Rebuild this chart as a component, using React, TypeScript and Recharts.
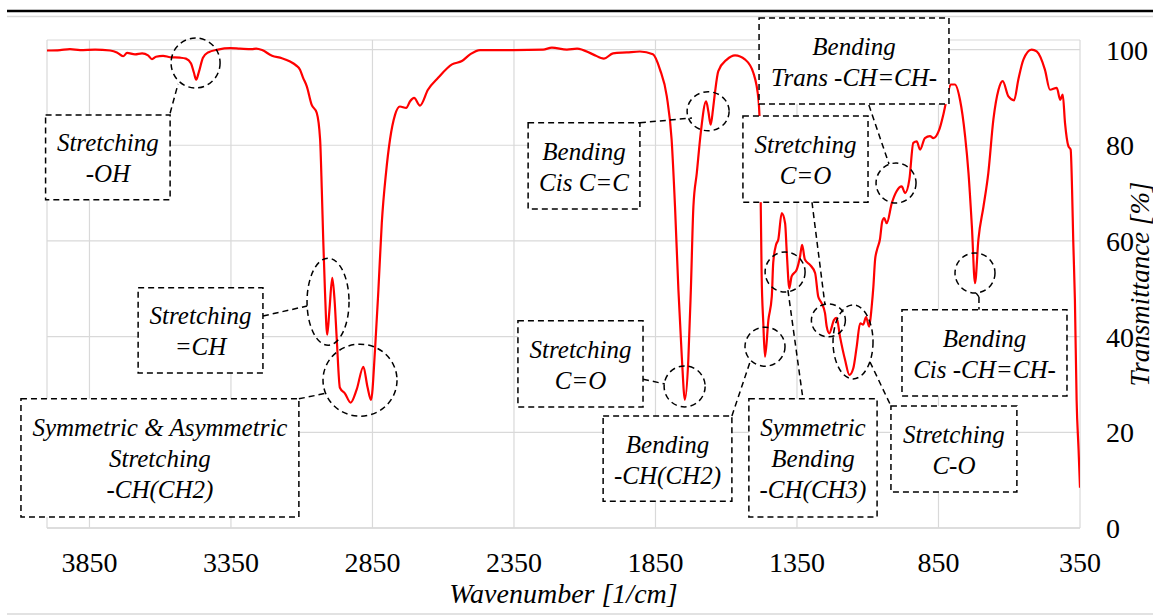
import React from 'react';
import {
  LineChart,
  Line,
  XAxis,
  YAxis,
  CartesianGrid,
  ReferenceArea,
  ReferenceDot,
  ReferenceLine,
} from 'recharts';

// ---------- data ----------
const WAVENUMBER = [
  4000, 3954, 3919, 3883, 3830, 3777, 3753, 3731, 3717, 3689, 3664, 3643, 3629, 3615, 3590, 3565, 3530, 3509,
  3491, 3481, 3473, 3463, 3449, 3431, 3396, 3353, 3318, 3276, 3261, 3240, 3205, 3170, 3141, 3120, 3106, 3095,
  3082, 3065, 3047, 3035, 3029, 3024, 3018, 3010, 3002, 2992, 2984, 2976, 2965, 2947, 2927, 2906, 2882, 2868,
  2855, 2841, 2829, 2817, 2802, 2788, 2770, 2753, 2731, 2717, 2703, 2682, 2654, 2618, 2569, 2534, 2505, 2470,
  2353, 2247, 2216, 2163, 2127, 2071, 2032, 2000, 1951, 1905, 1859, 1834, 1810, 1793, 1781, 1769, 1757, 1746,
  1734, 1725, 1716, 1704, 1690, 1671, 1663, 1655, 1647, 1640, 1628, 1598, 1569, 1533, 1504, 1486, 1480, 1478,
  1475, 1469, 1463, 1451, 1439, 1434, 1424, 1416, 1404, 1392, 1386, 1377, 1369, 1351, 1339, 1332, 1322, 1304,
  1286, 1275, 1263, 1251, 1245, 1236, 1219, 1210, 1198, 1180, 1165, 1151, 1139, 1127, 1116, 1106, 1095, 1086,
  1080, 1074, 1067, 1057, 1049, 1042, 1033, 1015, 998, 980, 968, 953, 939, 927, 915, 898, 880, 868, 847, 833,
  819, 807, 792, 774, 756, 744, 732, 721, 709, 691, 674, 656, 638, 623, 603, 583, 568, 550, 521, 503, 474, 456,
  432, 420, 411, 403, 391, 383, 378, 374, 368, 362, 355, 350,
];

const TRANSMITTANCE = [
  99.8, 99.9, 100.1, 99.9, 100, 99.8, 99.4, 98.6, 99.3, 99.0, 99.2, 98.8, 98.0, 98.5, 98.7, 98.4, 98.3, 98.1,
  97.1, 95.2, 93.7, 95.4, 98.3, 99.4, 100, 100.3, 100.2, 100.1, 100.2, 99.9, 98.7, 98.2, 97.5, 96.7, 95.8, 94.1,
  92.3, 88.5, 86.8, 81.2, 70.7, 60.3, 49.8, 40.4, 45.6, 52.3, 47.7, 39.3, 29.3, 28.1, 26.2, 28.9, 33.7, 29.6,
  26.8, 37.2, 49.8, 63.8, 74.3, 81.2, 86.4, 88.1, 87.8, 89.2, 89.9, 88.3, 91.6, 94.1, 96.9, 97.6, 99.0, 99.9,
  99.9, 100, 100.4, 100, 100.2, 99.0, 98.1, 99.2, 99.4, 99.6, 99.0, 95.8, 90.2, 81.2, 67.2, 49.8, 35.8, 26.8,
  35.1, 49.8, 67.2, 74.2, 82.6, 89.2, 87.0, 84.3, 87.4, 90.9, 95.5, 97.9, 98.8, 97.9, 95.1, 89.5, 81.2, 67.2,
  53.3, 42.8, 35.8, 43.5, 48.4, 55.4, 59.2, 60.3, 65.8, 63.7, 57.5, 50.1, 52.6, 54.0, 56.8, 59.2, 56.1, 55.0,
  53.3, 48.4, 47.0, 44.9, 42.1, 40.7, 43.5, 43.9, 40.0, 35.1, 32.0, 33.4, 37.9, 42.8, 42.5, 44.1, 42.1, 46.3,
  50.5, 56.1, 58.2, 60.3, 64.0, 64.8, 63.7, 67.9, 70.4, 71.4, 70.0, 72.8, 80.5, 80.8, 79.1, 81.5, 81.9, 81.5, 83.3, 86.4,
  90.2, 92.7, 92.7, 89.5, 81.9, 74.2, 63.0, 51.2, 60.3, 67.2, 74.2, 85.4, 91.6, 93.4, 90.2, 89.4, 93.7, 97.9, 100, 99.6, 95.8, 91.6,
  92.0, 89.5, 90.6, 84.7, 79.8, 79.1, 70.7, 60.3, 47.7, 26.8, 16.3, 8.4,
];

const X_TICKS = [3850, 3350, 2850, 2350, 1850, 1350, 850, 350];
const Y_TICKS = [0, 20, 40, 60, 80, 100];

const X_TITLE = 'Wavenumber [1/cm]';
const Y_TITLE = 'Transmittance [%]';

// ---------- annotations (in data coordinates: wavenumber, transmittance) ----------
type Annot = {
  lines: string[];
  box: [number, number, number, number]; // x1, x2, y1, y2
  ring: [number, number, number, number]; // cx, cy (data), rx, ry (px)
  leader: [number, number][];
};

const ANNOTATIONS: Annot[] = [
  { lines: ['Stretching', '-OH'], box: [4005, 3565, 86.3, 68.6], ring: [3475, 97.2, 24.5, 25], leader: [[3565, 86.7], [3537, 92.8]] },
  { lines: ['Stretching', '=CH'], box: [3678, 3237, 50.2, 32.4], ring: [3007, 47.3, 21, 43.5], leader: [[3237, 44.3], [3081, 46.4]] },
  { lines: ['Symmetric & Asymmetric', 'Stretching', '-CH(CH2)'], box: [4092, 3110, 27.0, 2.3], ring: [2894, 30.9, 37, 36], leader: [[3110, 27.0], [3011, 28.2]] },
  { lines: ['Bending', 'Cis C=C'], box: [2300, 1905, 84.7, 66.7], ring: [1664, 87.1, 21, 19.5], leader: [[1905, 84.7], [1721, 85.7]] },
  { lines: ['Stretching', 'C=O'], box: [2336, 1894, 43.3, 25.3], ring: [1747, 29.6, 20.5, 20.5], leader: [[1894, 31.1], [1817, 30.1]] },
  { lines: ['Bending', '-CH(CH2)'], box: [2035, 1580, 23.4, 5.6], ring: [1463, 37.9, 20, 19.5], leader: [[1580, 23.4], [1516, 34.7]] },
  { lines: ['Symmetric', 'Bending', '-CH(CH3)'], box: [1520, 1067, 27.0, 2.3], ring: [1392, 53.5, 20, 20], leader: [[1382, 49.7], [1329, 27.0]] },
  { lines: ['Stretching', 'C=O'], box: [1541, 1099, 86.1, 68.1], ring: [1239, 43.4, 17, 16.5], leader: [[1297, 68.1], [1251, 46.6]] },
  { lines: ['Stretching', 'C-O'], box: [1018, 573, 25.5, 7.5], ring: [1152, 38.9, 20, 37], leader: [[1092, 34.7], [1018, 25.5]] },
  { lines: ['Bending', 'Trans -CH=CH-'], box: [1484, 813, 106.6, 88.6], ring: [1000, 72.1, 20, 20], leader: [[1096, 88.4], [1025, 76.1]] },
  { lines: ['Bending', 'Cis -CH=CH-'], box: [979, 396, 45.6, 27.6], ring: [721, 53.3, 20, 20], leader: [[717, 49.1], [707, 48.3], [707, 45.6]] },
];

const FONT = '"Liberation Serif", "Times New Roman", serif';
const DASH = '6 4';
const LINE_H = 31;
const ANN_FONT = 25;

const data = WAVENUMBER.map((w, i) => ({ w, t: TRANSMITTANCE[i] }));

function buildAnnotations() {
  const els: React.ReactNode[] = [];
  ANNOTATIONS.forEach((a, i) => {
    for (let k = 0; k < a.leader.length - 1; k++) {
      const p0 = a.leader[k];
      const p1 = a.leader[k + 1];
      els.push(
        <ReferenceLine
          key={`l${i}-${k}`}
          segment={[{ x: p0[0], y: p0[1] }, { x: p1[0], y: p1[1] }]}
          stroke="#000"
          strokeWidth={1.5}
          strokeDasharray={DASH}
          ifOverflow="visible"
          zIndex={1500}
        />
      );
    }
    const [cx, cy, rx, ry] = a.ring;
    els.push(
      <ReferenceDot
        key={`d${i}`}
        x={cx}
        y={cy}
        r={rx}
        ifOverflow="visible"
        zIndex={1500}
        shape={(p: any) => (
          <ellipse cx={p.cx} cy={p.cy} rx={rx} ry={ry} fill="none" stroke="#000" strokeWidth={1.5} strokeDasharray={DASH} />
        )}
      />
    );
    const [x1, x2, y1, y2] = a.box;
    const n = a.lines.length;
    els.push(
      <ReferenceArea
        key={`a${i}`}
        x1={x1}
        x2={x2}
        y1={y1}
        y2={y2}
        ifOverflow="visible"
        zIndex={1600}
        shape={(p: any) => {
          const mx = p.x + p.width / 2;
          const my = p.y + p.height / 2;
          return (
            <g>
              <rect x={p.x} y={p.y} width={p.width} height={p.height} fill="#fff" stroke="#000" strokeWidth={1.5} strokeDasharray={DASH} />
              {a.lines.map((t, j) => (
                <text
                  key={j}
                  x={mx}
                  y={my + (j - (n - 1) / 2) * LINE_H + 9.5}
                  textAnchor="middle"
                  fontFamily={FONT}
                  fontStyle="italic"
                  fontSize={ANN_FONT}
                  fill="#000"
                >
                  {t}
                </text>
              ))}
            </g>
          );
        }}
      />
    );
  });
  return els;
}

export default function App() {
  const tickStyle = { fontSize: 28, fill: '#000', fontFamily: FONT };
  return (
    <div style={{ position: 'absolute', left: 0, top: 0, width: 1153, height: 616, background: '#fff' }}>
      <svg width={1153} height={616} style={{ position: 'absolute', left: 0, top: 0 }}>
        <line x1={7} x2={1153} y1={11} y2={11} stroke="#000" strokeWidth={2.5} />
        <line x1={7} x2={1153} y1={16.5} y2={16.5} stroke="#d9d9d9" strokeWidth={1.5} />
        <line x1={7} x2={1153} y1={614} y2={614} stroke="#d9d9d9" strokeWidth={1.5} />
        <text x={563.5} y={603} textAnchor="middle" fontFamily={FONT} fontStyle="italic" fontSize={28} fill="#000">
          {X_TITLE}
        </text>
        <text
          transform="translate(1148.5,284) rotate(-90)"
          x={0}
          y={0}
          textAnchor="middle"
          fontFamily={FONT}
          fontStyle="italic"
          fontSize={27}
          fill="#000"
        >
          {Y_TITLE}
        </text>
      </svg>
      <div style={{ position: 'absolute', left: 0, top: 0 }}>
        <LineChart width={1153} height={616} data={data} margin={{ top: 40, right: 13, bottom: 0, left: 47 }}>
          <CartesianGrid stroke="#d9d9d9" strokeWidth={1.2} />
          <XAxis
            dataKey="w"
            type="number"
            domain={[350, 4000]}
            reversed
            allowDataOverflow
            ticks={X_TICKS}
            interval={0}
            height={88}
            tickLine={false}
            tickSize={0}
            tickMargin={24}
            axisLine={{ stroke: '#d9d9d9', strokeWidth: 1.5 }}
            tick={tickStyle}
          />
          <YAxis
            orientation="right"
            type="number"
            domain={[0, 102]}
            allowDataOverflow
            ticks={Y_TICKS}
            interval={0}
            width={60}
            tickLine={false}
            tickSize={0}
            tickMargin={26}
            axisLine={false}
            tick={{ ...tickStyle, textAnchor: 'start' }}
          />
          <Line
            type="monotone"
            dataKey="t"
            stroke="#ff0000"
            strokeWidth={2.2}
            dot={false}
            activeDot={false}
            isAnimationActive={false}
          />
          {buildAnnotations()}
        </LineChart>
      </div>
    </div>
  );
}
